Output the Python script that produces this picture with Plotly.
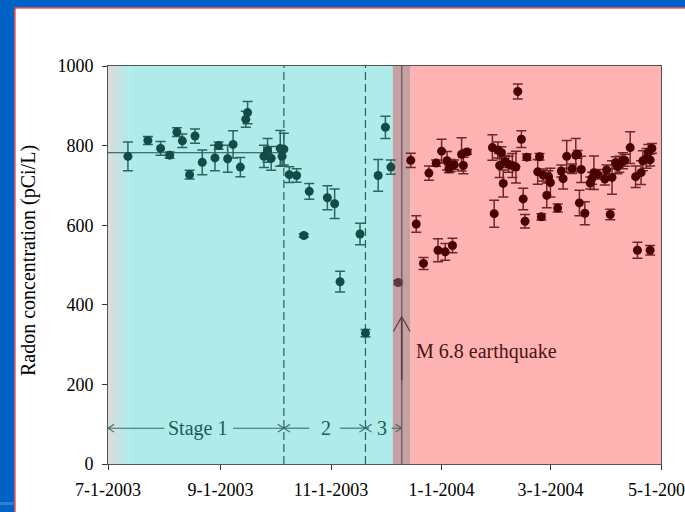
import plotly.graph_objects as go
import pandas as pd

# ---------------- data ----------------
pre_dates = ["2003-07-12", "2003-07-23", "2003-07-30", "2003-08-04", "2003-08-08", "2003-08-11",
             "2003-08-15", "2003-08-18", "2003-08-22", "2003-08-29", "2003-08-31", "2003-09-05",
             "2003-09-08", "2003-09-12", "2003-09-15", "2003-09-16", "2003-09-25", "2003-09-27",
             "2003-09-29", "2003-10-04", "2003-10-05", "2003-10-06", "2003-10-09", "2003-10-13",
             "2003-10-17", "2003-10-20", "2003-10-30", "2003-11-03", "2003-11-06", "2003-11-17",
             "2003-11-20", "2003-11-27", "2003-12-01", "2003-12-04"]
pre_values = [773, 813, 793, 776, 834, 812, 727, 824, 758, 769, 800, 767, 803, 746, 866, 883, 773, 788,
              768, 793, 773, 791, 727, 725, 574, 685, 669, 654, 458, 578, 329, 725, 846, 746]
pre_errors = [36, 10, 17, 8, 11, 17, 11, 18, 31, 32, 9, 34, 34, 24, 20, 28, 28, 30,
              30, 45, 24, 40, 20, 17, 4, 20, 30, 37, 26, 27, 9, 40, 28, 18]

quake_dates = ["2003-12-08"]
quake_values = [456]
quake_errors = [5]

post_dates = ["2003-12-15", "2003-12-18", "2003-12-22", "2003-12-25", "2003-12-29", "2003-12-30",
              "2004-01-01", "2004-01-03", "2004-01-04", "2004-01-05", "2004-01-06", "2004-01-07",
              "2004-01-08", "2004-01-12", "2004-01-13", "2004-01-15", "2004-01-29", "2004-01-30",
              "2004-02-01", "2004-02-02", "2004-02-03", "2004-02-04", "2004-02-05", "2004-02-07",
              "2004-02-09", "2004-02-11", "2004-02-12", "2004-02-14", "2004-02-15", "2004-02-16",
              "2004-02-17", "2004-02-23", "2004-02-24", "2004-02-25", "2004-02-26", "2004-02-28",
              "2004-02-29", "2004-03-01", "2004-03-05", "2004-03-07", "2004-03-08", "2004-03-10",
              "2004-03-13", "2004-03-15", "2004-03-16", "2004-03-17", "2004-03-18", "2004-03-20",
              "2004-03-23", "2004-03-24", "2004-03-25", "2004-03-27", "2004-03-31", "2004-04-01",
              "2004-04-03", "2004-04-04", "2004-04-06", "2004-04-07", "2004-04-08", "2004-04-10",
              "2004-04-11", "2004-04-14", "2004-04-17", "2004-04-18", "2004-04-20", "2004-04-21",
              "2004-04-23", "2004-04-24", "2004-04-25", "2004-04-25", "2004-04-26"]
post_values = [763, 603, 504, 731, 756, 537, 786, 533, 762, 742, 750, 549,
               752, 778, 750, 784, 795, 629, 789, 750, 782, 705, 760, 753,
               750, 746, 936, 816, 666, 610, 771, 734, 772, 621, 726, 675,
               722, 707, 643, 736, 717, 773, 742, 776, 778, 656, 740, 630,
               706, 718, 732, 728, 716, 739, 627, 720, 757, 747, 753, 762,
               763, 795, 722, 537, 732, 762, 768, 783, 537, 764, 793]
post_errors = [18, 21, 15, 18, 8, 29, 30, 21, 23, 10, 15, 18,
               12, 42, 21, 6, 32, 34, 20, 30, 15, 34, 15, 20,
               30, 40, 19, 21, 27, 17, 8, 31, 8, 8, 15, 31,
               15, 36, 10, 15, 26, 40, 12, 42, 10, 32, 33, 29,
               15, 15, 42, 12, 15, 12, 13, 42, 15, 18, 20, 20,
               15, 40, 27, 20, 30, 25, 25, 20, 12, 15, 12]

tick_dates = ["2003-07-01", "2003-09-01", "2003-11-01", "2004-01-01", "2004-03-01", "2004-05-01"]
tick_labels = ["7-1-2003", "9-1-2003", "11-1-2003", "1-1-2004", "3-1-2004", "5-1-2004"]
y_ticks = [0, 200, 400, 600, 800, 1000]

start, end = "2003-07-01", "2004-05-01"
fade_end = "2003-07-13"
stage2_start = "2003-10-06"
stage3_start = "2003-11-20"
band_start, band_end = "2003-12-05", "2003-12-14 14:00"
quake_date = "2003-12-10"
stage1_mean = 782
stage_y = 90

# ---------------- helpers ----------------
def D(s, off=0.0):
    return (pd.Timestamp(s) + pd.Timedelta(days=off)).strftime("%Y-%m-%d %H:%M")

L, R, T, B = 108, 24, 66, 48
W, H = 685, 512
PW, PH = W - L - R, H - T - B
def xp(px):
    return (px - L) / PW
def yp(py):
    return (H - B - py) / PH

TEAL = "#134b46"
TEAL_ERR = "#2e6460"
MAROON = "#4b0000"
MAROON_ERR = "#6e2828"
SERIF = "Liberation Serif, Times New Roman, serif"
CYAN = "#afebea"
BLUE = "#0062c4"

shapes = []
# background regions
shapes.append(dict(type="rect", xref="x", yref="y", x0=fade_end, x1=band_start, y0=0, y1=1000,
                   fillcolor=CYAN, line_width=0, layer="below"))
shapes.append(dict(type="rect", xref="x", yref="y", x0=band_end, x1=end, y0=0, y1=1000,
                   fillcolor="#ffb3b3", line_width=0, layer="below"))
shapes.append(dict(type="rect", xref="x", yref="y", x0=band_start, x1=band_end, y0=0, y1=1000,
                   fillcolor="#c4a2a4", line_width=0, layer="below"))
# earthquake line
shapes.append(dict(type="line", xref="x", yref="y", x0=quake_date, x1=quake_date, y0=0, y1=1000,
                   line=dict(color="#7c5e60", width=1.5), layer="below"))
# stage boundaries
for d in [stage2_start, stage3_start]:
    shapes.append(dict(type="line", xref="x", yref="y", x0=d, x1=d, y0=0, y1=1000,
                       line=dict(color="#2f605c", width=1.2, dash="8px,4px"), layer="below"))

# stage arrows
arrow_col = "#3b6b67"
hd, hv = 3.4, 10
segs = [(start, D("2003-08-01"), "left"), (D("2003-09-08"), stage2_start, "right"),
        (stage2_start, D("2003-10-20"), "left"), (D("2003-11-06"), stage3_start, "right"),
        (stage3_start, D("2003-11-22"), "left"), (D("2003-12-04 12:00"), quake_date, "right")]
for a, b, side in segs:
    shapes.append(dict(type="line", xref="x", yref="y", x0=a, x1=b, y0=stage_y, y1=stage_y,
                       line=dict(color=arrow_col, width=1.1)))
    tip = a if side == "left" else b
    off = hd if side == "left" else -hd
    for s in (1, -1):
        shapes.append(dict(type="line", xref="x", yref="y", x0=tip, x1=D(tip, off), y0=stage_y,
                           y1=stage_y + s * hv, line=dict(color=arrow_col, width=1.1)))
# earthquake arrow
eq_col = "#5a3c3e"
tip_v, tail_v = 370, 210
shapes.append(dict(type="line", xref="x", yref="y", x0=quake_date, x1=quake_date, y0=tail_v, y1=tip_v,
                   line=dict(color=eq_col, width=1.6)))
for s in (1, -1):
    shapes.append(dict(type="line", xref="x", yref="y", x0=quake_date, x1=D(quake_date, s * 4.6),
                       y0=tip_v, y1=tip_v - 37, line=dict(color=eq_col, width=1.2)))

# slide frame (drawn on top, outside the plot area)
shapes += [
    dict(type="rect", xref="paper", yref="paper", x0=xp(-5), x1=xp(W + 5), y0=yp(7.5), y1=yp(-5),
         fillcolor=BLUE, line_width=0, layer="above"),
    dict(type="rect", xref="paper", yref="paper", x0=xp(-5), x1=xp(14.5), y0=yp(H + 5), y1=yp(-5),
         fillcolor=BLUE, line_width=0, layer="above"),
    dict(type="rect", xref="paper", yref="paper", x0=xp(-5), x1=xp(14.5), y0=yp(505), y1=yp(502),
         fillcolor="#2a7fd6", line_width=0, layer="above"),
    dict(type="line", xref="paper", yref="paper", x0=xp(15), x1=xp(15), y0=yp(H + 5), y1=yp(7.5),
         line=dict(color="#ff0000", width=1), layer="above"),
    dict(type="line", xref="paper", yref="paper", x0=xp(15), x1=xp(W + 5), y0=yp(8), y1=yp(8),
         line=dict(color="#ff0000", width=1), layer="above"),
]

fig = go.Figure()

# faded left edge of the stage region
fig.add_trace(go.Scatter(
    x=[start, fade_end, fade_end, start, start], y=[0, 0, 1000, 1000, 0],
    mode="lines", line=dict(width=0), fill="toself",
    fillgradient=dict(type="horizontal", colorscale=[[0, "#dcdcdc"], [1, CYAN]]),
    hoverinfo="skip", showlegend=False))
# stage 1 mean line
fig.add_trace(go.Scatter(x=[start, stage2_start], y=[stage1_mean, stage1_mean], mode="lines",
                         line=dict(color="#1b4f4a", width=1.2), hoverinfo="skip", showlegend=False))

def add_series(x, y, e, col, ecol):
    fig.add_trace(go.Scatter(
        x=x, y=y, mode="markers",
        marker=dict(color=col, size=9, line=dict(width=0)),
        error_y=dict(type="data", array=e, visible=True, color=ecol, thickness=1.5, width=5),
        showlegend=False, cliponaxis=False))

add_series(pre_dates, pre_values, pre_errors, TEAL, TEAL_ERR)
add_series(quake_dates, quake_values, quake_errors, "#5b3a3c", "#6e4f51")
add_series(post_dates, post_values, post_errors, MAROON, MAROON_ERR)

annotations = [
    dict(x=D("2003-08-19 12:00"), y=stage_y, xref="x", yref="y", text="Stage 1", showarrow=False,
         font=dict(family=SERIF, size=20, color="#235a55")),
    dict(x=D("2003-10-29"), y=stage_y, xref="x", yref="y", text="2", showarrow=False,
         font=dict(family=SERIF, size=20, color="#235a55")),
    dict(x=D("2003-11-29 06:00"), y=stage_y, xref="x", yref="y", text="3", showarrow=False,
         font=dict(family=SERIF, size=20, color="#235a55")),
    dict(x=D("2003-12-17"), y=282, xref="x", yref="y", xanchor="left", text="M 6.8 earthquake",
         showarrow=False, font=dict(family=SERIF, size=20, color="#4a1414")),
    dict(x=xp(28), y=yp(261), xref="paper", yref="paper", text="Radon concentration (pCi/L)",
         textangle=-90, showarrow=False, xanchor="center", yanchor="middle",
         font=dict(family=SERIF, size=20, color="black")),
]

fig.update_layout(
    width=W, height=H,
    margin=dict(l=L, r=R, t=T, b=B, autoexpand=False),
    paper_bgcolor="white", plot_bgcolor="white",
    shapes=shapes, annotations=annotations,
    xaxis=dict(type="date", range=[start, end], tickvals=tick_dates, ticktext=tick_labels,
               ticks="outside", ticklen=5, tickcolor="#333", showgrid=False, zeroline=False,
               showline=True, linecolor="#555", linewidth=1, mirror=True, ticklabeloverflow="allow",
               ticklabelstandoff=4,
               tickfont=dict(family=SERIF, size=18, color="black")),
    yaxis=dict(range=[0, 1000], tickvals=y_ticks, ticks="outside", ticklen=5, tickcolor="#333",
               showgrid=False, zeroline=False, showline=True, linecolor="#555", linewidth=1,
               mirror=True, ticklabelstandoff=5,
               tickfont=dict(family=SERIF, size=18, color="black")),
)

fig.write_html("out.html", config={"displayModeBar": False},
               post_script="document.body.style.margin='0';document.body.style.overflow='hidden';")
